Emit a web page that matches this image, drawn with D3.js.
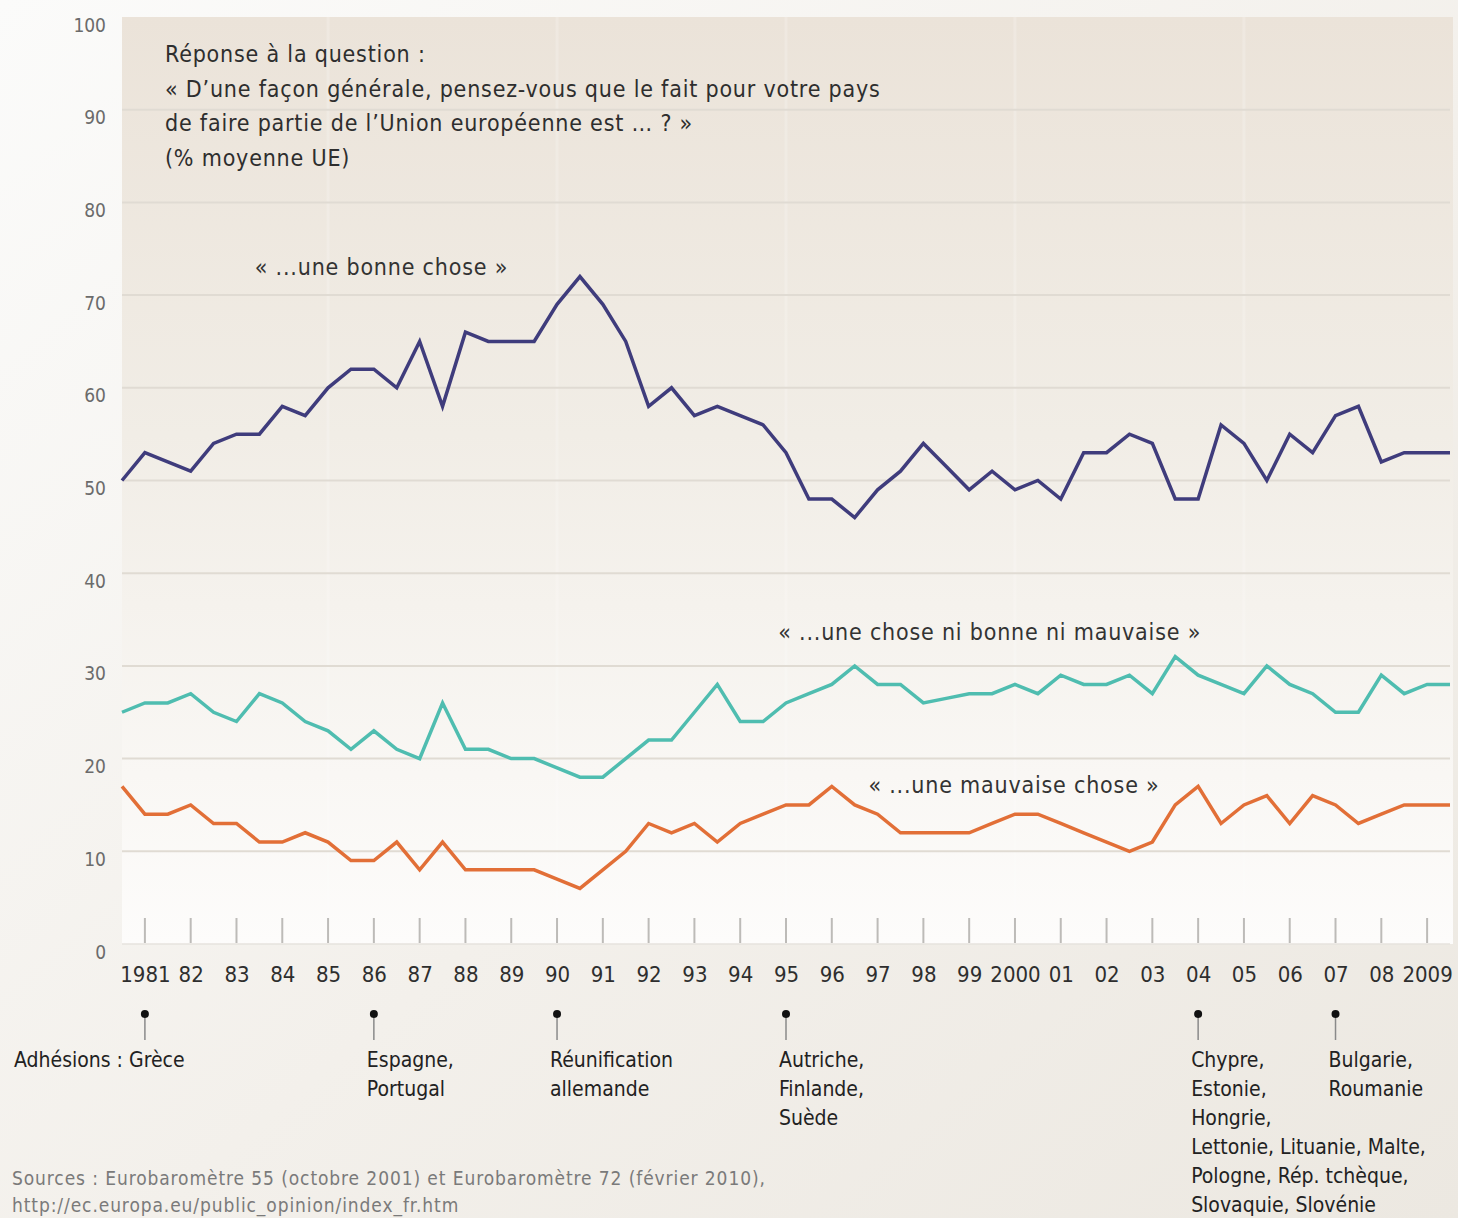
<!DOCTYPE html>
<html>
<head>
<meta charset="utf-8">
<script src="https://cdn.jsdelivr.net/npm/d3@7"></script>
<style>
  body { margin: 0; background: #f3f0eb; }
  svg text { font-family: "Liberation Sans Narrow", "DejaVu Sans Condensed", "Arial Narrow", sans-serif; }
</style>
</head>
<body>
<div id="chart"></div>
<script>
// Survey dates (two waves per year)
var surveyDates = [1980.5, 1981, 1981.5, 1982, 1982.5, 1983, 1983.5, 1984, 1984.5, 1985,
  1985.5, 1986, 1986.5, 1987, 1987.5, 1988, 1988.5, 1989, 1989.5, 1990,
  1990.5, 1991, 1991.5, 1992, 1992.5, 1993, 1993.5, 1994, 1994.5, 1995,
  1995.5, 1996, 1996.5, 1997, 1997.5, 1998, 1998.5, 1999, 1999.5, 2000,
  2000.5, 2001, 2001.5, 2002, 2002.5, 2003, 2003.5, 2004, 2004.5, 2005,
  2005.5, 2006, 2006.5, 2007, 2007.5, 2008, 2008.5, 2009, 2009.5];

// « ...une bonne chose »
var bonne = [50, 53, 52, 51, 54, 55, 55, 58, 57, 60,
  62, 62, 60, 65, 58, 66, 65, 65, 65, 69,
  72, 69, 65, 58, 60, 57, 58, 57, 56, 53,
  48, 48, 46, 49, 51, 54, 51.5, 49, 51, 49,
  50, 48, 53, 53, 55, 54, 48, 48, 56, 54,
  50, 55, 53, 57, 58, 52, 53, 53, 53];

// « ...une chose ni bonne ni mauvaise »
var niBonneNiMauvaise = [25, 26, 26, 27, 25, 24, 27, 26, 24, 23,
  21, 23, 21, 20, 26, 21, 21, 20, 20, 19,
  18, 18, 20, 22, 22, 25, 28, 24, 24, 26,
  27, 28, 30, 28, 28, 26, 26.5, 27, 27, 28,
  27, 29, 28, 28, 29, 27, 31, 29, 28, 27,
  30, 28, 27, 25, 25, 29, 27, 28, 28];

// « ...une mauvaise chose »
var mauvaise = [17, 14, 14, 15, 13, 13, 11, 11, 12, 11,
  9, 9, 11, 8, 11, 8, 8, 8, 8, 7,
  6, 8, 10, 13, 12, 13, 11, 13, 14, 15,
  15, 17, 15, 14, 12, 12, 12, 12, 13, 14,
  14, 13, 12, 11, 10, 11, 15, 17, 13, 15,
  16, 13, 16, 15, 13, 14, 15, 15, 15];

var tickYears = [1981, 1982, 1983, 1984, 1985, 1986, 1987, 1988, 1989, 1990,
  1991, 1992, 1993, 1994, 1995, 1996, 1997, 1998, 1999, 2000,
  2001, 2002, 2003, 2004, 2005, 2006, 2007, 2008, 2009];
var tickLabels = ["1981", "82", "83", "84", "85", "86", "87", "88", "89", "90",
  "91", "92", "93", "94", "95", "96", "97", "98", "99", "2000",
  "01", "02", "03", "04", "05", "06", "07", "08", "2009"];

var yTicks = [0, 10, 20, 30, 40, 50, 60, 70, 80, 90, 100];

// Accessions
var accessionYears = [1981, 1986, 1990, 1995, 2004, 2007];
var accessionLabels = [
  ["Adhésions : Grèce"],
  ["Espagne,", "Portugal"],
  ["Réunification", "allemande"],
  ["Autriche,", "Finlande,", "Suède"],
  ["Chypre,", "Estonie,", "Hongrie,", "Lettonie, Lituanie, Malte,", "Pologne, Rép. tchèque,", "Slovaquie, Slovénie"],
  ["Bulgarie,", "Roumanie"]
];

var titleLines = ["Réponse à la question :",
  "« D’une façon générale, pensez-vous que le fait pour votre pays",
  "de faire partie de l’Union européenne est … ? »",
  "(% moyenne UE)"];

var sourceLines = ["Sources :  Eurobaromètre 55 (octobre 2001) et Eurobaromètre 72 (février 2010),",
  "http://ec.europa.eu/public_opinion/index_fr.htm"];

var svgWidth = 1458;
var svgHeight = 1218;

var svg = d3.select("#chart")
  .append("svg")
  .attr("width", svgWidth)
  .attr("height", svgHeight);

var defs = svg.append("defs");

var pageGrad = defs.append("linearGradient")
  .attr("id", "pageGrad")
  .attr("x1", "0").attr("y1", "0").attr("x2", "1").attr("y2", "1");
pageGrad.append("stop").attr("offset", "0%").attr("stop-color", "#fbfbfa");
pageGrad.append("stop").attr("offset", "55%").attr("stop-color", "#f3f0eb");
pageGrad.append("stop").attr("offset", "100%").attr("stop-color", "#ece8e1");

var plotGrad = defs.append("linearGradient")
  .attr("id", "plotGrad")
  .attr("x1", "0").attr("y1", "0").attr("x2", "0").attr("y2", "1");
plotGrad.append("stop").attr("offset", "0%").attr("stop-color", "#ebe3d9");
plotGrad.append("stop").attr("offset", "45%").attr("stop-color", "#f1ede6");
plotGrad.append("stop").attr("offset", "100%").attr("stop-color", "#fdfcfb");

svg.append("rect")
  .attr("width", svgWidth)
  .attr("height", svgHeight)
  .attr("fill", "url(#pageGrad)");

// Scales
var xScale = d3.scaleLinear()
  .domain([1980.5, 2009.5])
  .range([122, 1450]);

var yScale = d3.scaleLinear()
  .domain([0, 100])
  .range([944, 17]);

// Plot background
svg.append("rect")
  .attr("x", xScale(1980.5))
  .attr("y", yScale(100))
  .attr("width", xScale(2009.5) - xScale(1980.5) + 3)
  .attr("height", yScale(0) - yScale(100))
  .attr("fill", "url(#plotGrad)");

// faint vertical bands
svg.append("g")
  .selectAll("line")
  .data([1985, 1990, 1995, 2000, 2005])
  .enter().append("line")
    .attr("x1", function(d) { return xScale(d); })
    .attr("x2", function(d) { return xScale(d); })
    .attr("y1", yScale(100))
    .attr("y2", yScale(0))
    .attr("stroke", "#ffffff")
    .attr("stroke-opacity", 0.2)
    .attr("stroke-width", 3);

// Gridlines
svg.append("g")
  .selectAll("line")
  .data(yTicks.filter(function(d) { return d > 0 && d < 100; }))
  .enter().append("line")
    .attr("x1", xScale(1980.5))
    .attr("x2", xScale(2009.5))
    .attr("y1", function(d) { return yScale(d); })
    .attr("y2", function(d) { return yScale(d); })
    .attr("stroke", "#e0dbd3")
    .attr("stroke-width", 2);

svg.append("line")
  .attr("x1", xScale(1980.5))
  .attr("x2", xScale(2009.5))
  .attr("y1", yScale(0))
  .attr("y2", yScale(0))
  .attr("stroke", "#e6e3de")
  .attr("stroke-width", 1.5);

// Y axis labels
var leftAxis = d3.axisLeft(yScale)
  .tickValues(yTicks)
  .tickSize(0)
  .tickPadding(0);

var yAxisG = svg.append("g")
  .attr("transform", "translate(106, 8)")
  .call(leftAxis);
yAxisG.select(".domain").remove();
yAxisG.selectAll("text")
  .style("font-size", "19px")
  .attr("fill", "#6b6b6b");

// X axis: ticks + labels
var bottomAxis = d3.axisBottom(xScale)
  .tickValues(tickYears)
  .tickSize(0)
  .tickPadding(0)
  .tickFormat(function(d, i) { return tickLabels[i]; });

var xAxisG = svg.append("g")
  .attr("transform", "translate(0, 966)")
  .call(bottomAxis);
xAxisG.select(".domain").remove();
xAxisG.selectAll("text")
  .style("font-size", "22px")
  .attr("fill", "#2e2e2e");

svg.append("g")
  .selectAll("line")
  .data(tickYears)
  .enter().append("line")
    .attr("x1", function(d) { return xScale(d); })
    .attr("x2", function(d) { return xScale(d); })
    .attr("y1", 918)
    .attr("y2", yScale(0) - 1)
    .attr("stroke", "#bdbbb8")
    .attr("stroke-width", 2);

// Lines
var series = [
  { values: bonne, color: "#3f3c7c" },
  { values: niBonneNiMauvaise, color: "#4fbdb0" },
  { values: mauvaise, color: "#e26f37" }
];

var line = d3.line()
  .x(function(d) { return xScale(d[0]); })
  .y(function(d) { return yScale(d[1]); });

svg.append("g")
  .selectAll("path")
  .data(series)
  .enter().append("path")
    .attr("d", function(s) {
      return line(s.values.map(function(v, i) { return [surveyDates[i], v]; }));
    })
    .attr("fill", "none")
    .attr("stroke", function(s) { return s.color; })
    .attr("stroke-width", 3.5)
    .attr("stroke-linejoin", "miter");

// Series labels
var seriesLabels = [
  { text: "« ...une bonne chose »", year: 1983.4, value: 72.2 },
  { text: "« ...une chose ni bonne ni mauvaise »", year: 1994.83, value: 32.8 },
  { text: "« ...une mauvaise chose »", year: 1996.8, value: 16.3 }
];

svg.append("g")
  .selectAll("text")
  .data(seriesLabels)
  .enter().append("text")
    .attr("x", function(d) { return xScale(d.year); })
    .attr("y", function(d) { return yScale(d.value); })
    .style("font-size", "23px")
    .style("letter-spacing", "0.8px")
    .attr("fill", "#333")
    .text(function(d) { return d.text; });

// Title
svg.append("g")
  .selectAll("text")
  .data(titleLines)
  .enter().append("text")
    .attr("x", 165)
    .attr("y", function(d, i) { return 62 + i * 34.5; })
    .style("font-size", "23px")
    .style("letter-spacing", "0.8px")
    .attr("fill", "#2e2e2e")
    .text(function(d) { return d; });

// Accession markers
var acc = svg.append("g")
  .selectAll("g")
  .data(accessionYears)
  .enter().append("g");

acc.append("line")
  .attr("x1", function(d) { return xScale(d); })
  .attr("x2", function(d) { return xScale(d); })
  .attr("y1", 1014)
  .attr("y2", 1040)
  .attr("stroke", "#8a8a8a")
  .attr("stroke-width", 1.5);

acc.append("circle")
  .attr("cx", function(d) { return xScale(d); })
  .attr("cy", 1014)
  .attr("r", 4)
  .attr("fill", "#111");

acc.append("text")
  .attr("x", function(d, i) { return i === 0 ? 14 : xScale(d) - 7; })
  .attr("y", 1067)
  .style("font-size", "21px")
  .attr("fill", "#222")
  .selectAll("tspan")
  .data(function(d, i) { return accessionLabels[i]; })
  .enter().append("tspan")
    .attr("x", function() { return d3.select(this.parentNode).attr("x"); })
    .attr("dy", function(d, i) { return i === 0 ? 0 : 29; })
    .text(function(d) { return d; });

// Sources
svg.append("g")
  .selectAll("text")
  .data(sourceLines)
  .enter().append("text")
    .attr("x", 12)
    .attr("y", function(d, i) { return 1185 + i * 27; })
    .style("font-size", "19px")
    .style("letter-spacing", "0.9px")
    .attr("fill", "#7a7a7a")
    .text(function(d) { return d; });
</script>
</body>
</html>
